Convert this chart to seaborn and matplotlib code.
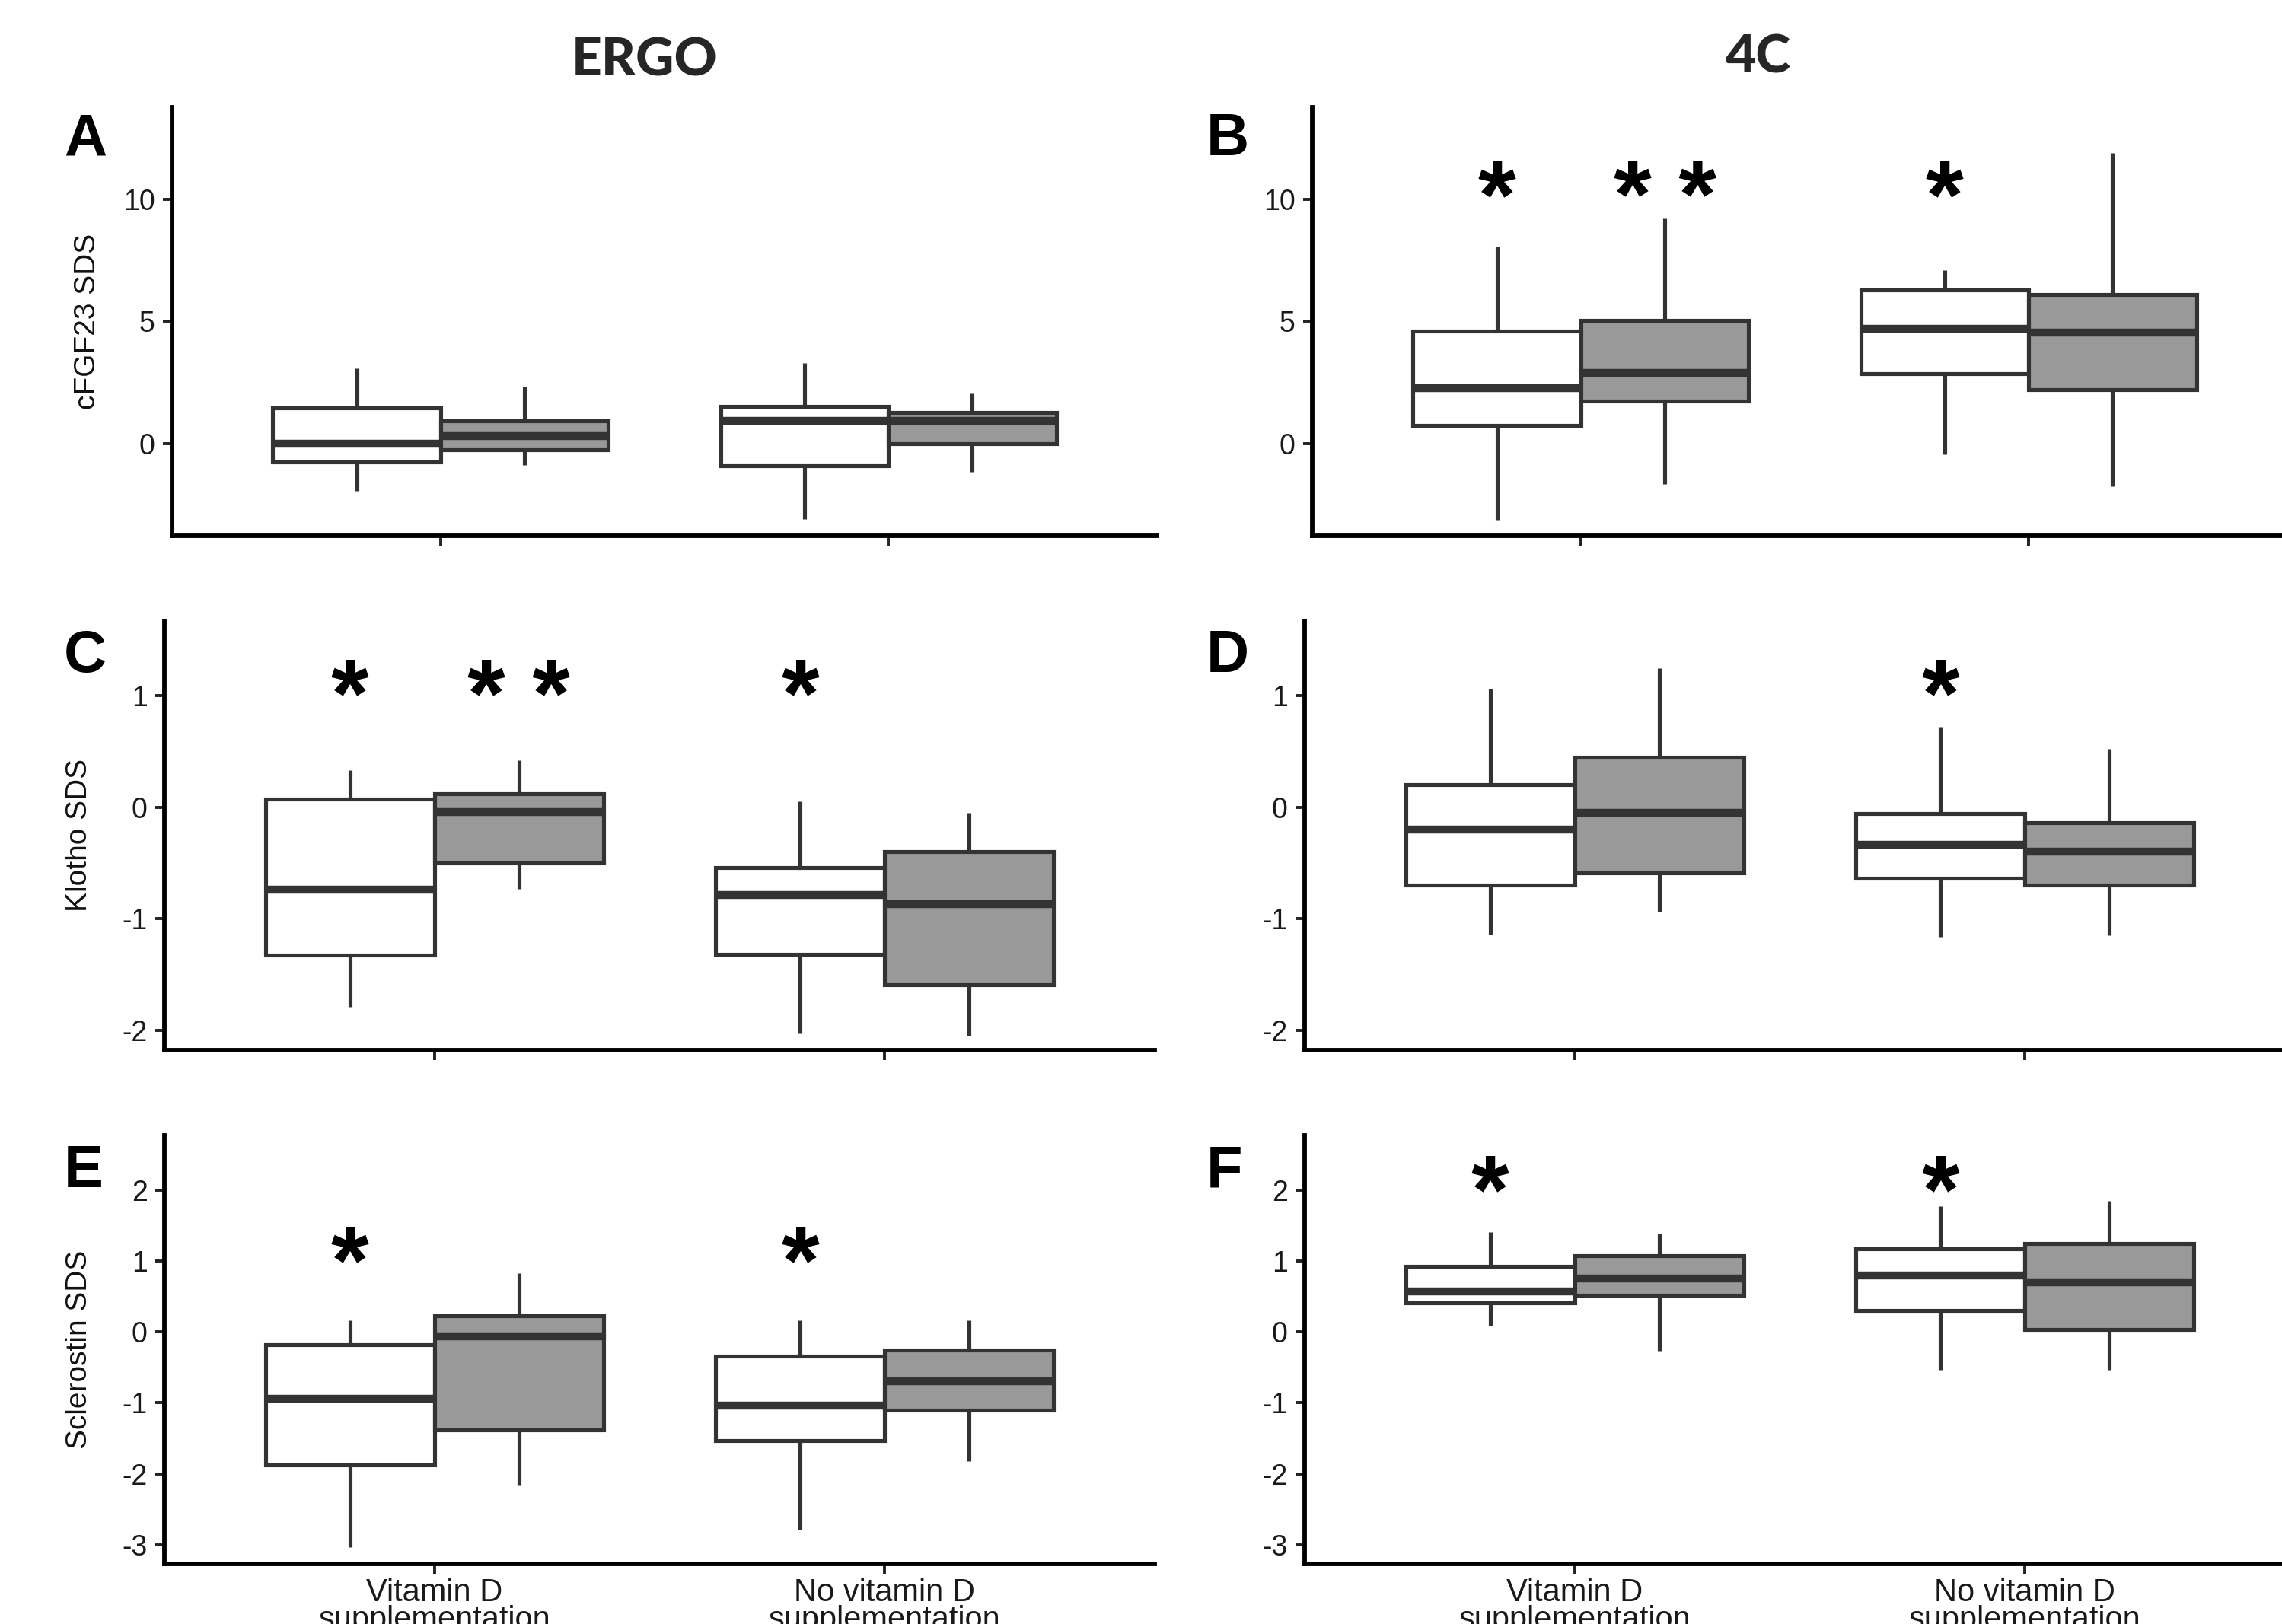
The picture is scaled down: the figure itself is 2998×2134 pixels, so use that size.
import numpy as np
import pandas as pd
import matplotlib
matplotlib.use("Agg")
import matplotlib.pyplot as plt
import seaborn as sns

W, H = 2998, 2134

groups = ["Vitamin D\nsupplementation", "No vitamin D\nsupplementation"]
levels = ["open", "filled"]
fills = {"open": "white", "filled": "#999999"}

# five-number summaries: (min, q1, median, q3, max)
# order: vit D open, vit D filled, no vit D open, no vit D filled
ergo_fgf23 = [[-1.91, -0.74, 0.00, 1.47, 3.09],
              [-0.86, -0.24, 0.33, 0.93, 2.33],
              [-3.06, -0.89, 0.93, 1.54, 3.30],
              [-1.13, 0.00, 0.93, 1.30, 2.07]]
fourc_fgf23 = [[-3.10, 0.76, 2.29, 4.61, 8.07],
               [-1.64, 1.76, 2.90, 5.04, 9.21],
               [-0.43, 2.86, 4.69, 6.29, 7.11],
               [-1.74, 2.21, 4.54, 6.09, 11.90]]
ergo_klotho = [[-1.79, -1.33, -0.74, 0.07, 0.33],
               [-0.73, -0.50, -0.04, 0.12, 0.42],
               [-2.03, -1.32, -0.79, -0.54, 0.05],
               [-2.05, -1.59, -0.87, -0.40, -0.05]]
fourc_klotho = [[-1.14, -0.70, -0.20, 0.20, 1.06],
                [-0.94, -0.59, -0.05, 0.45, 1.25],
                [-1.16, -0.64, -0.34, -0.06, 0.72],
                [-1.15, -0.70, -0.40, -0.14, 0.52]]
ergo_scl = [[-3.03, -1.87, -0.94, -0.18, 0.16],
            [-2.16, -1.38, -0.06, 0.23, 0.83],
            [-2.79, -1.53, -1.04, -0.34, 0.16],
            [-1.82, -1.10, -0.70, -0.25, 0.16]]
fourc_scl = [[0.09, 0.41, 0.57, 0.92, 1.41],
             [-0.27, 0.52, 0.75, 1.08, 1.39],
             [-0.53, 0.30, 0.80, 1.17, 1.77],
             [-0.53, 0.03, 0.70, 1.25, 1.85]]

# significance marks: (group index, level index, text)
stars_a = []
stars_b = [(0, 0, "*"), (0, 1, "* *"), (1, 0, "*")]
stars_c = [(0, 0, "*"), (0, 1, "* *"), (1, 0, "*")]
stars_d = [(1, 0, "*")]
stars_e = [(0, 0, "*"), (1, 0, "*")]
stars_f = [(0, 0, "*"), (1, 0, "*")]
star_y = [None, 11.1, 1.22, 1.22, 1.33, 2.33]

row_labels = ["cFGF23 SDS", "Klotho SDS", "Sclerostin SDS"]
row_ticks = [[0, 5, 10], [-2, -1, 0, 1], [-3, -2, -1, 0, 1, 2]]
row_ylim = [(-3.75, 13.75), (-2.18, 1.67), (-3.27, 2.77)]
letters = ["A", "B", "C", "D", "E", "F"]

panels = [ergo_fgf23, fourc_fgf23, ergo_klotho, fourc_klotho, ergo_scl, fourc_scl]
stars = [stars_a, stars_b, stars_c, stars_d, stars_e, stars_f]


def to_frame(summary):
    rows = []
    for k, vals in enumerate(summary):
        for v in vals:
            rows.append({"group": groups[k // 2], "level": levels[k % 2], "value": v})
    return pd.DataFrame(rows)


def rect(left, top, width, bottom):
    return [left / W, 1 - bottom / H, width / W, (bottom - top) / H]


sns.set_theme(style="ticks")
plt.rcParams["font.family"] = ["Liberation Sans", "DejaVu Sans"]
plt.rcParams["axes.unicode_minus"] = False

fig = plt.figure(figsize=(W / 100, H / 100), dpi=100)

rows_px = [(141, 704), (816, 1380), (1492, 2055)]
letter_top = [147, 826, 1503]

for i, summary in enumerate(panels):
    r, c = divmod(i, 2)
    top, bottom = rows_px[r]
    if r == 0:
        left, width = (226 if c == 0 else 1724), 1294
    else:
        left, width = (216 if c == 0 else 1714), 1301
    ax = fig.add_axes(rect(left, top, width, bottom))
    df = to_frame(summary)
    sns.boxplot(data=df, x="group", y="value", hue="level", order=groups,
                hue_order=levels, palette=fills, saturation=1,
                linecolor="#333333", linewidth=3.7, width=0.75, gap=0,
                whis=(0, 100), showcaps=False,
                medianprops={"linewidth": 7.5},
                whiskerprops={"linewidth": 3.7},
                legend=False, ax=ax)
    ax.set_xlim(-0.6, 1.6)
    ax.set_ylim(*row_ylim[r])
    ax.set_yticks(row_ticks[r])
    ax.set_xlabel("")
    if c == 0:
        ax.set_ylabel(row_labels[r], fontsize=28, color="#111111")
        ax.yaxis.set_label_coords(-0.072, 0.5)
    else:
        ax.set_ylabel("")
    sns.despine(ax=ax)
    for s in ["left", "bottom"]:
        ax.spines[s].set_linewidth(4.2)
        ax.spines[s].set_color("black")
    ax.tick_params(axis="both", length=9, width=2.8, color="#222222",
                   labelsize=27, labelcolor="#1a1a1a", pad=7)
    if r < 2:
        ax.tick_params(axis="x", labelbottom=False)
    else:
        for lab in ax.get_xticklabels():
            lab.set_fontsize(30)
            lab.set_linespacing(0.88)
        ax.tick_params(axis="x", pad=4)

    fs = 92
    for gi, hi, txt in stars[i]:
        x = gi + (hi - 0.5) * 0.375
        ax.annotate(txt, xy=(x, star_y[i]), xytext=(0, -0.57 * fs),
                    textcoords="offset points", ha="center", va="baseline",
                    fontsize=fs, fontweight="bold", color="black")

    lx = 84 if c == 0 else 1585
    fig.text(lx / W, 1 - letter_top[r] / H, letters[i], ha="left", va="top",
             fontsize=56, fontweight="bold", color="black")

fig.text(847 / W, 1 - 80 / H, "ERGO", ha="center", va="center",
         fontsize=50, fontweight="black", family=["Lato", "DejaVu Sans"])
fig.text(2310 / W, 1 - 76 / H, "4C", ha="center", va="center",
         fontsize=50, fontweight="black", family=["Lato", "DejaVu Sans"])

fig.savefig("out.png", dpi=100)
